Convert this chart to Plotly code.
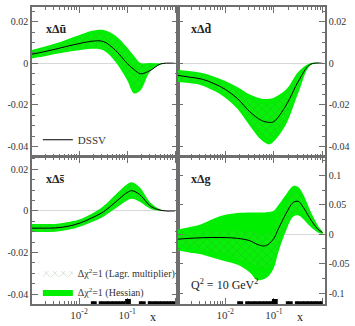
import plotly.graph_objects as go

# ---------------- data ----------------
x_u = [0.001, 0.0018, 0.0032, 0.0056, 0.01, 0.018, 0.032, 0.056, 0.1, 0.14, 0.19, 0.3, 0.5, 1.0]
u_c = [0.0043, 0.0055, 0.0068, 0.0082, 0.0095, 0.0106, 0.0105, 0.0065, 0.0, -0.003, -0.005, -0.0035, -0.0003, 0]
u_hi = [0.0063, 0.0079, 0.0095, 0.0115, 0.0135, 0.0155, 0.016, 0.0135, 0.0076, 0.0035, 0.0002, 0.0002, 0.0, 0]
u_lo = [0.0023, 0.0033, 0.0045, 0.0055, 0.0063, 0.007, 0.0063, 0.001, -0.008, -0.0145, -0.013, -0.004, -0.0005, 0]
u_lhi = [0.0058, 0.0072, 0.0087, 0.0105, 0.0122, 0.014, 0.0145, 0.012, 0.0062, 0.002, -0.0008, -0.0005, 0, 0]
u_llo = [0.0028, 0.0038, 0.005, 0.006, 0.007, 0.0078, 0.0072, 0.002, -0.006, -0.0115, -0.0105, -0.0035, -0.0004, 0]

x_d = [0.001, 0.0018, 0.0032, 0.0056, 0.01, 0.018, 0.032, 0.056, 0.08, 0.1, 0.18, 0.32, 0.56, 1.0]
d_c = [-0.0057, -0.0066, -0.0075, -0.0095, -0.0125, -0.017, -0.0233, -0.0275, -0.0284, -0.028, -0.02, -0.0085, -0.0005, 0]
d_hi = [-0.003, -0.0037, -0.0045, -0.0062, -0.0085, -0.0115, -0.015, -0.017, -0.017, -0.0165, -0.0125, -0.004, 0, 0]
d_lo = [-0.0088, -0.0095, -0.0105, -0.013, -0.0165, -0.022, -0.03, -0.037, -0.039, -0.0375, -0.029, -0.014, -0.001, 0]
d_lhi = [-0.0037, -0.0045, -0.0053, -0.0072, -0.0097, -0.013, -0.0172, -0.0195, -0.0197, -0.0192, -0.0145, -0.0055, -0.0002, 0]
d_llo = [-0.008, -0.0088, -0.0098, -0.012, -0.0152, -0.0205, -0.0283, -0.0345, -0.0362, -0.035, -0.0265, -0.0122, -0.0008, 0]

x_s = [0.001, 0.0018, 0.0032, 0.0056, 0.01, 0.018, 0.032, 0.056, 0.1, 0.125, 0.18, 0.32, 0.56, 1.0]
s_c = [-0.0083, -0.0083, -0.0082, -0.0075, -0.006, -0.0035, -0.0005, 0.004, 0.0088, 0.0097, 0.008, 0.002, 0.0001, 0]
s_hi = [-0.0063, -0.0063, -0.0063, -0.0055, -0.0042, -0.0015, 0.0022, 0.0075, 0.0128, 0.0138, 0.0115, 0.0035, 0.0002, 0]
s_lo = [-0.0102, -0.0102, -0.01, -0.0092, -0.0078, -0.0055, -0.0028, 0.001, 0.005, 0.0058, 0.0045, 0.0008, 0.0, 0]
s_lhi = [-0.0068, -0.0068, -0.0068, -0.006, -0.0046, -0.002, 0.0015, 0.0065, 0.0118, 0.0128, 0.0105, 0.003, 0.0002, 0]
s_llo = [-0.0097, -0.0097, -0.0096, -0.0088, -0.0074, -0.005, -0.0022, 0.0018, 0.006, 0.0068, 0.0055, 0.001, 0.0, 0]

x_g = [0.001, 0.0018, 0.0032, 0.0056, 0.01, 0.018, 0.032, 0.045, 0.063, 0.08, 0.1, 0.125, 0.18, 0.25, 0.32, 0.4, 0.56, 0.8, 1.0]
g_c = [-0.0086, -0.007, -0.006, -0.0055, -0.0057, -0.007, -0.011, -0.017, -0.02, -0.016, -0.007, 0.01, 0.036, 0.054, 0.0557, 0.046, 0.026, 0.0086, 0.003]
g_hi = [0.0075, 0.012, 0.017, 0.026, 0.033, 0.036, 0.037, 0.037, 0.037, 0.038, 0.04, 0.05, 0.068, 0.082, 0.08, 0.068, 0.04, 0.015, 0.004]
g_lo = [-0.027, -0.031, -0.034, -0.04, -0.046, -0.052, -0.065, -0.0776, -0.076, -0.07, -0.057, -0.029, 0.007, 0.03, 0.032, 0.026, 0.013, 0.003, 0.001]
g_lhi = [0.0, 0.002, 0.004, 0.005, 0.006, 0.006, 0.005, 0.002, 0.0, 0.003, 0.01, 0.025, 0.05, 0.072, 0.072, 0.06, 0.035, 0.012, 0.003]
g_llo = [-0.018, -0.021, -0.025, -0.03, -0.035, -0.042, -0.05, -0.055, -0.058, -0.054, -0.045, -0.02, 0.015, 0.038, 0.04, 0.033, 0.018, 0.005, 0.002]

# experimental x coverage bars (bottom panels)
cov_x0 = [0.0176, 0.0257, 0.091, 0.176, 0.27]
cov_x1 = [0.0233, 0.091, 0.12, 0.244, 1.0]
cov_h = [0.018, 0.018, 0.034, 0.018, 0.018]

panel_names = ["xΔū", "xΔd̄", "xΔs̄", "xΔg"]
ytick_small = [0.02, 0, -0.02, -0.04]
ytick_small_txt = ["0.02", "0", "-0.02", "-0.04"]
ytick_g = [0.1, 0.05, 0, -0.05, -0.1]
ytick_g_txt = ["0.1", "0.05", "0", "-0.05", "-0.1"]
xtick_vals = [0.001, 0.01, 0.1, 1]
xtick_txt = ["", "10<sup>-2</sup>", "10<sup>-1</sup>", ""]
xminor = [k * 10.0 ** e for e in (-3, -2, -1) for k in range(2, 10)]

GREEN = "#00ee00"
SERIF = "Liberation Serif, Times New Roman, serif"
AX = "#6e6e6e"

fig = go.Figure()

panels = [
    (x_u, u_c, u_hi, u_lo, u_lhi, u_llo, "x", "y"),
    (x_d, d_c, d_hi, d_lo, d_lhi, d_llo, "x2", "y2"),
    (x_s, s_c, s_hi, s_lo, s_lhi, s_llo, "x3", "y3"),
    (x_g, g_c, g_hi, g_lo, g_lhi, g_llo, "x4", "y4"),
]

for i, (xx, c, hi, lo, lhi, llo, xa, ya) in enumerate(panels):
    fig.add_trace(go.Scatter(
        x=xx + xx[::-1], y=hi + lo[::-1], fill="toself", fillcolor=GREEN,
        line=dict(width=0, shape="spline"), mode="lines", xaxis=xa, yaxis=ya,
        name="Δχ<sup>2</sup>=1 (Hessian)", showlegend=(i == 2), legend="legend2",
        legendrank=2, hoverinfo="skip"))
    fig.add_trace(go.Scatter(
        x=xx + xx[::-1], y=lhi + llo[::-1], fill="toself", fillcolor="rgba(255,255,255,0.03)",
        fillpattern=dict(shape="x", fgcolor="#3f7f3f", bgcolor="rgba(255,255,255,0.03)",
                         fgopacity=0.55, size=6, solidity=0.12),
        line=dict(width=0, shape="spline"), mode="lines", xaxis=xa, yaxis=ya,
        name="Δχ<sup>2</sup>=1 (Lagr. multiplier)", showlegend=(i == 2), legend="legend2",
        legendrank=1, hoverinfo="skip"))
    fig.add_trace(go.Scatter(
        x=xx, y=c, mode="lines", line=dict(color="black", width=1, shape="spline"),
        xaxis=xa, yaxis=ya, name="DSSV", showlegend=(i == 0), legend="legend"))

# coverage bars in bottom panels
for xa, ya in (("x3", "y3"), ("x4", "y4")):
    for a, b, h in zip(cov_x0, cov_x1, cov_h):
        fig.add_shape(type="rect", xref=xa, yref=ya + " domain", x0=a, x1=b, y0=0, y1=h,
                      fillcolor="black", line=dict(width=0))

xl = [0, 0.4966]
xr = [0.4966, 1]
yt = [0.4967, 1]
yb = [0, 0.4934]
xrange = [-2.98, 0.05]

def xax(domain, anchor, labels):
    return dict(type="log", domain=domain, anchor=anchor, range=xrange,
                tickmode="array", tickvals=xtick_vals,
                ticktext=xtick_txt if labels else ["", "", "", ""],
                showticklabels=labels, ticks="inside", ticklen=6, tickwidth=1, tickcolor=AX,
                minor=dict(tickmode="array", tickvals=xminor, ticks="inside", ticklen=3,
                           tickcolor=AX, tickwidth=1),
                showline=True, linecolor=AX, linewidth=1.5, mirror="ticks", showgrid=False,
                zeroline=False, tickfont=dict(family=SERIF, size=11, color="#333"))

def yax(domain, anchor, rng, vals, txt, side, mdt):
    return dict(domain=domain, anchor=anchor, range=rng, side=side,
                tickmode="array", tickvals=vals, ticktext=txt,
                ticks="inside", ticklen=6, tickwidth=1, tickcolor=AX,
                minor=dict(dtick=mdt, ticks="inside", ticklen=3, tickcolor=AX, tickwidth=1),
                showline=True, linecolor=AX, linewidth=1.5, mirror="ticks", showgrid=False,
                zeroline=True, zerolinecolor="#d8d8d8", zerolinewidth=1,
                tickfont=dict(family=SERIF, size=10, color="#333"))

fig.update_layout(
    width=355, height=326, margin=dict(l=32, r=25, t=5, b=19),
    paper_bgcolor="white", plot_bgcolor="white",
    xaxis=xax(xl, "y", False),
    xaxis2=xax(xr, "y2", False),
    xaxis3=xax(xl, "y3", True),
    xaxis4=xax(xr, "y4", True),
    yaxis=yax(yt, "x", [-0.0448, 0.0271], ytick_small, ytick_small_txt, "left", 0.005),
    yaxis2=yax(yt, "x2", [-0.0448, 0.0271], ytick_small, ytick_small_txt, "right", 0.005),
    yaxis3=yax(yb, "x3", [-0.0448, 0.0257], ytick_small, ytick_small_txt, "left", 0.005),
    yaxis4=yax(yb, "x4", [-0.1186, 0.1305], ytick_g, ytick_g_txt, "right", 0.025),
    legend=dict(x=0.02, y=0.553, xanchor="left", yanchor="middle", bgcolor="rgba(0,0,0,0)",
                font=dict(family=SERIF, size=11, color="#333"), itemwidth=30),
    legend2=dict(x=0.02, y=0.072, xanchor="left", yanchor="middle", bgcolor="rgba(0,0,0,0)",
                 font=dict(family=SERIF, size=10, color="#333"), itemwidth=30,
                 traceorder="normal", tracegroupgap=0),
    showlegend=True,
)

for name, xr_, yr_ in zip(panel_names, ("x domain", "x2 domain", "x3 domain", "x4 domain"),
                          ("y domain", "y2 domain", "y3 domain", "y4 domain")):
    fig.add_annotation(text="<b>" + name + "</b>", xref=xr_, yref=yr_, x=0.08, y=0.85,
                       xanchor="left", yanchor="middle", showarrow=False,
                       font=dict(family=SERIF, size=12, color="#222"))

fig.add_annotation(text="Q<sup>2</sup> = 10 GeV<sup>2</sup>", xref="x4 domain", yref="y4 domain",
                   x=0.08, y=0.13, xanchor="left", yanchor="middle", showarrow=False,
                   font=dict(family=SERIF, size=12, color="#222"))
for xr_ in ("x3 domain", "x4 domain"):
    fig.add_annotation(text="x", xref=xr_, yref="paper", x=0.83, y=0, yshift=-13,
                       xanchor="center", yanchor="middle", showarrow=False,
                       font=dict(family=SERIF, size=12, color="#222"))

fig.write_html("out.html", config={"displayModeBar": False},
               post_script="document.body.style.margin='0';")
